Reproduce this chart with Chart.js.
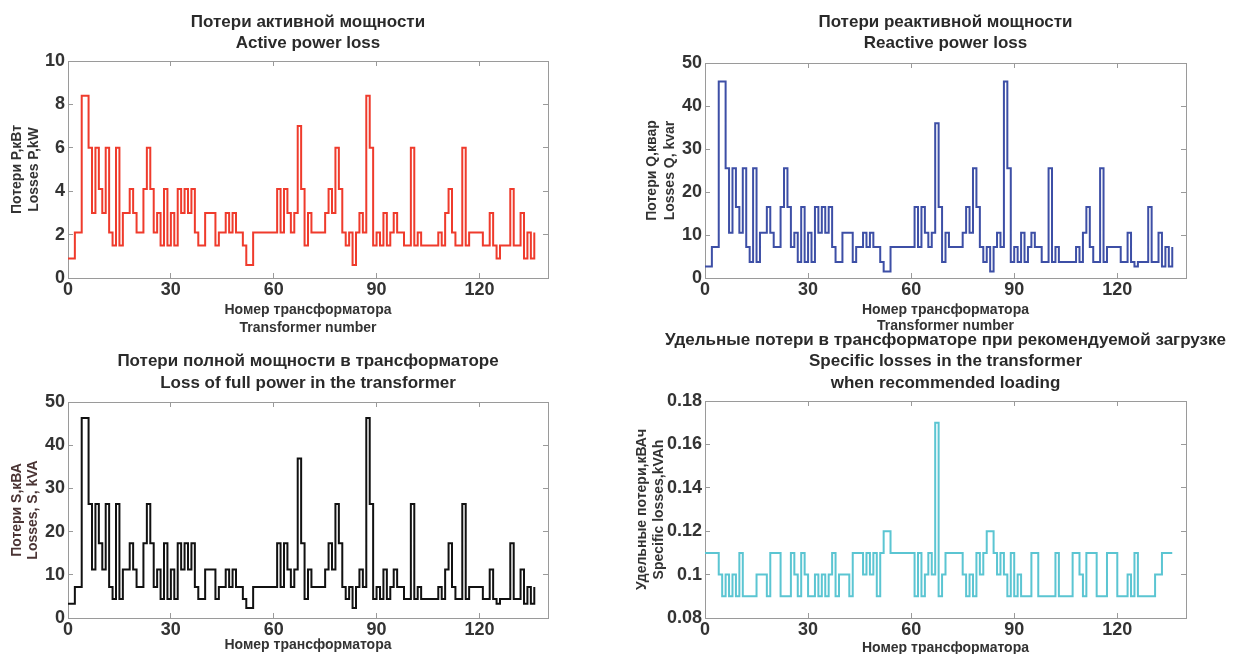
<!DOCTYPE html>
<html>
<head>
<meta charset="utf-8">
<script src="https://cdn.jsdelivr.net/npm/chart.js@4.4.1/dist/chart.umd.min.js"></script>
<style>
  html, body { margin: 0; padding: 0; background: #fff; overflow: hidden; width: 1240px; height: 654px; }
  canvas { position: absolute; }
</style>
</head>
<body>
<canvas id="pLoss" width="600" height="340" style="left:0;top:0"></canvas>
<canvas id="qLoss" width="620" height="340" style="left:620px;top:0"></canvas>
<canvas id="sLoss" width="600" height="340" style="left:0;top:340px"></canvas>
<canvas id="specLoss" width="620" height="355" style="left:620px;top:325px"></canvas>
<script>
// active power loss, kW
const P_LOSS = [
  0.9,0.9,2.1,2.1,8.4,8.4,6,3,6,4.1,
  3,6,2.1,1.5,6,1.5,3,3,4.1,3,
  2.1,2.1,4.1,6,4.1,2.1,3,1.5,4.1,1.5,
  3,1.5,4.1,3,4.1,3,4.1,2.1,1.5,1.5,
  3,3,3,1.5,2.1,2.1,3,2.1,3,2.1,
  2.1,1.5,0.6,0.6,2.1,2.1,2.1,2.1,2.1,2.1,
  2.1,4.1,2.1,4.1,3,2.1,3,7,4.1,1.5,
  3,2.1,2.1,2.1,2.1,3,4.1,3,6,4.1,
  2.1,1.5,2.1,0.6,2.1,3,2.1,8.4,6,1.5,
  2.1,1.5,3,1.5,2.1,3,2.1,2.1,1.5,1.5,
  6,1.5,2.1,1.5,1.5,1.5,1.5,1.5,2.1,1.5,
  3,4.1,2.1,1.5,1.5,6,1.5,2.1,2.1,2.1,
  2.1,1.5,1.5,3,1.5,0.9,1.5,1.5,1.5,4.1,
  1.5,1.5,3,0.9,2.1,0.9,2.1
];
// reactive power loss, kvar
const Q_LOSS = [
  2.7,2.7,7.2,7.2,45.7,45.7,25.5,10.5,25.5,16.5,
  10.5,25.5,7.2,3.7,25.5,3.7,10.5,10.5,16.5,10.5,
  7.2,7.2,16.5,25.5,16.5,7.2,10.5,3.7,16.5,3.7,
  10.5,3.7,16.5,10.5,16.5,10.5,16.5,7.2,3.7,3.7,
  10.5,10.5,10.5,3.7,7.2,7.2,10.5,7.2,10.5,7.2,
  7.2,3.7,1.5,1.5,7.2,7.2,7.2,7.2,7.2,7.2,
  7.2,16.5,7.2,16.5,10.5,7.2,10.5,36,16.5,3.7,
  10.5,7.2,7.2,7.2,7.2,10.5,16.5,10.5,25.5,16.5,
  7.2,3.7,7.2,1.5,7.2,10.5,7.2,45.7,25.5,3.7,
  7.2,3.7,10.5,3.7,7.2,10.5,7.2,7.2,3.7,3.7,
  25.5,3.7,7.2,3.7,3.7,3.7,3.7,3.7,7.2,3.7,
  10.5,16.5,7.2,3.7,3.7,25.5,3.7,7.2,7.2,7.2,
  7.2,3.7,3.7,10.5,3.7,2.7,3.7,3.7,3.7,16.5,
  3.7,3.7,10.5,2.7,7.2,2.7,7.2
];
// full power loss, kVA
const S_LOSS = [
  3.3,3.3,7.2,7.2,46.3,46.3,26.4,11.2,26.4,17.3,
  11.2,26.4,7.2,4.4,26.4,4.4,11.2,11.2,17.3,11.2,
  7.2,7.2,17.3,26.4,17.3,7.2,11.2,4.4,17.3,4.4,
  11.2,4.4,17.3,11.2,17.3,11.2,17.3,7.2,4.4,4.4,
  11.2,11.2,11.2,4.4,7.2,7.2,11.2,7.2,11.2,7.2,
  7.2,4.4,2.3,2.3,7.2,7.2,7.2,7.2,7.2,7.2,
  7.2,17.3,7.2,17.3,11.2,7.2,11.2,36.9,17.3,4.4,
  11.2,7.2,7.2,7.2,7.2,11.2,17.3,11.2,26.4,17.3,
  7.2,4.4,7.2,2.3,7.2,11.2,7.2,46.3,26.4,4.4,
  7.2,4.4,11.2,4.4,7.2,11.2,7.2,7.2,4.4,4.4,
  26.4,4.4,7.2,4.4,4.4,4.4,4.4,4.4,7.2,4.4,
  11.2,17.3,7.2,4.4,4.4,26.4,4.4,7.2,7.2,7.2,
  7.2,4.4,4.4,11.2,4.4,3.3,4.4,4.4,4.4,17.3,
  4.4,4.4,11.2,3.3,7.2,3.3,7.2
];
// specific losses at recommended loading, kVAh
const SPEC_LOSS = [
  .11,.11,.11,.11,.1,.09,.1,.09,.1,.09,
  .11,.09,.09,.09,.09,.1,.1,.1,.09,.11,
  .11,.11,.09,.09,.09,.11,.1,.09,.11,.1,
  .09,.09,.1,.09,.1,.09,.1,.11,.09,.1,
  .1,.1,.09,.11,.11,.11,.1,.11,.1,.11,
  .09,.11,.12,.12,.11,.11,.11,.11,.11,.11,
  .11,.09,.11,.09,.1,.11,.1,.17,.09,.1,
  .11,.11,.11,.11,.11,.1,.09,.1,.09,.11,
  .1,.11,.12,.12,.11,.1,.11,.1,.09,.11,
  .09,.1,.09,.09,.09,.11,.11,.09,.09,.09,
  .09,.09,.11,.09,.09,.09,.09,.11,.11,.1,
  .09,.11,.11,.11,.09,.09,.09,.11,.11,.11,
  .09,.09,.09,.1,.09,.11,.09,.09,.09,.09,
  .09,.1,.1,.11,.11,.11,.11
];
const transformerNo = P_LOSS.map((_, i) => i);

const X_TICKS = [0, 30, 60, 90, 120];
const P_TICKS = [0, 2, 4, 6, 8, 10];
const QS_TICKS = [0, 10, 20, 30, 40, 50];
const SPEC_TICKS = [0.08, 0.1, 0.12, 0.14, 0.16, 0.18];
const X_TITLE = ['Номер трансформатора', 'Transformer number'];

const FONT = '"Liberation Sans", Arial, Helvetica, sans-serif';
Chart.defaults.font.family = FONT;

// two/three line headings centred over the plot box
const titleLines = {
  id: 'titleLines',
  afterDraw(chart, args, opts) {
    const { ctx, chartArea } = chart;
    const cx = (chartArea.left + chartArea.right) / 2;
    ctx.save();
    ctx.font = 'bold 17px ' + FONT;
    ctx.fillStyle = '#2a2a2a';
    ctx.textAlign = 'center';
    ctx.textBaseline = 'middle';
    opts.lines.forEach((t, i) => ctx.fillText(t, cx, opts.y[i]));
    ctx.restore();
  }
};
Chart.register(titleLines);

const boxGrid = { drawOnChartArea: false, tickLength: -5, color: '#9a9a9a' };
const boxBorder = { display: true, color: '#9a9a9a', width: 1 };
const fixedTicks = vals => s => { s.ticks = vals.map(v => ({ value: v })); };

function lossChart(id, c) {
  const tickFont = { size: 18, weight: 'bold' };
  return new Chart(document.getElementById(id), {
    type: 'line',
    data: {
      datasets: [{
        data: c.values.map((v, i) => ({ x: transformerNo[i], y: v })),
        borderColor: c.color,
        borderWidth: 2,
        stepped: 'before',
        pointRadius: 0,
        fill: false
      }]
    },
    options: {
      responsive: false,
      animation: false,
      layout: { padding: { top: c.top, right: c.width - c.right, left: 0, bottom: 0 } },
      plugins: {
        legend: { display: false },
        tooltip: { enabled: false },
        titleLines: { lines: c.title, y: c.titleY }
      },
      scales: {
        x: {
          type: 'linear', min: 0, max: 140,
          afterBuildTicks: fixedTicks(X_TICKS),
          afterFit: s => { s.height = c.height - c.bottom; },
          grid: boxGrid, border: boxBorder,
          ticks: { font: tickFont, color: '#333', padding: 6, maxRotation: 0 },
          title: {
            display: true, text: X_TITLE, color: '#333',
            font: { size: 14, weight: 'bold', lineHeight: c.xLh / 14 },
            padding: { top: 0, bottom: c.xPad }
          }
        },
        x2: {
          type: 'linear', axis: 'x', position: 'top', min: 0, max: 140,
          afterBuildTicks: fixedTicks(X_TICKS),
          afterFit: s => { s.height = 0; },
          grid: boxGrid, border: boxBorder,
          ticks: { display: false }
        },
        y: {
          type: 'linear', min: c.yTicks[0], max: c.yTicks[c.yTicks.length - 1],
          afterBuildTicks: fixedTicks(c.yTicks),
          afterFit: s => { s.width = c.left; },
          grid: boxGrid, border: boxBorder,
          ticks: { font: tickFont, color: '#333', padding: 8, callback: v => String(v) },
          title: {
            display: true, text: c.yTitle, color: c.yColor || '#333',
            font: { size: 14, weight: 'bold', lineHeight: c.yLh / 14 },
            padding: { top: c.yPad, bottom: 0 }
          }
        },
        y2: {
          type: 'linear', axis: 'y', position: 'right',
          min: c.yTicks[0], max: c.yTicks[c.yTicks.length - 1],
          afterBuildTicks: fixedTicks(c.yTicks),
          afterFit: s => { s.width = 0; },
          grid: boxGrid, border: boxBorder,
          ticks: { display: false }
        }
      }
    }
  });
}

lossChart('pLoss', {
  values: P_LOSS, color: '#ef3b2c', yTicks: P_TICKS,
  width: 600, height: 340, left: 68, right: 548, top: 61, bottom: 278,
  title: ['Потери активной мощности', 'Active power loss'], titleY: [22, 43],
  yTitle: ['Потери P,кВт', 'Losses P,kW'], yLh: 17, yPad: 8.5, xLh: 18, xPad: 3
});

lossChart('qLoss', {
  values: Q_LOSS, color: '#3d4fa6', yTicks: QS_TICKS,
  width: 620, height: 340, left: 85, right: 566, top: 63, bottom: 278,
  title: ['Потери реактивной мощности', 'Reactive power loss'], titleY: [22, 43],
  yTitle: ['Потери Q,квар', 'Losses Q, kvar'], yLh: 18, yPad: 23, xLh: 16, xPad: 6
});

lossChart('sLoss', {
  values: S_LOSS, color: '#111111', yTicks: QS_TICKS,
  width: 600, height: 340, left: 68, right: 548, top: 62, bottom: 278,
  title: ['Потери полной мощности в трансформаторе', 'Loss of full power in the transformer'], titleY: [21, 43],
  yTitle: ['Потери S,кВА', 'Losses, S, kVA'], yColor: '#4a3434', yLh: 16, yPad: 9, xLh: 18, xPad: 8
});

lossChart('specLoss', {
  values: SPEC_LOSS, color: '#5bc5d2', yTicks: SPEC_TICKS,
  width: 620, height: 355, left: 85, right: 566, top: 76, bottom: 293,
  title: ['Удельные потери в трансформаторе при рекомендуемой загрузке',
          'Specific losses in the transformer', 'when recommended loading'],
  titleY: [15, 36, 58],
  yTitle: ['Удельные потери,кВАч', 'Specific losses,kVAh'], yLh: 17, yPad: 13.5, xLh: 18, xPad: 5
});
</script>
</body>
</html>
